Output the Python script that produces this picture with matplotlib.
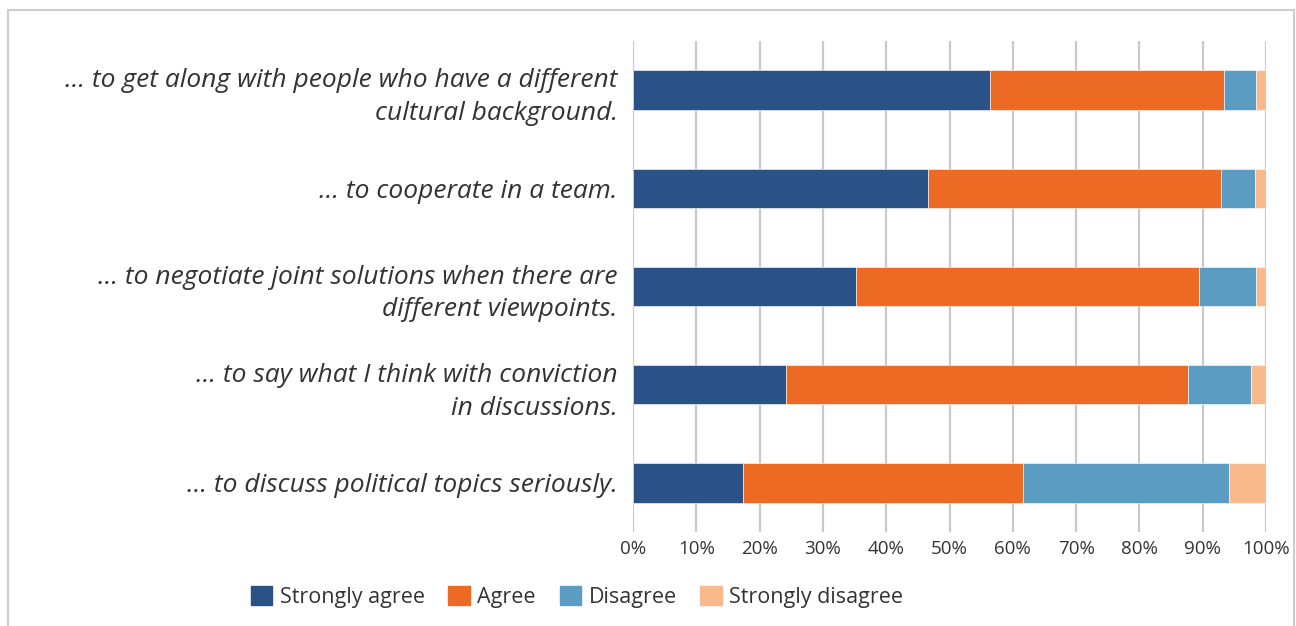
import matplotlib.pyplot as plt
import matplotlib.patches as mpatches
import numpy as np

plt.rcParams["font.family"] = ["Open Sans", "DejaVu Sans"]

# kategorie (od góry do dołu)
categories = [
    "… to get along with people who have a different\ncultural background.",
    "… to cooperate in a team.",
    "… to negotiate joint solutions when there are\ndifferent viewpoints.",
    "… to say what I think with conviction\nin discussions.",
    "… to discuss political topics seriously.",
]

# udziały w procentach
strongly_agree = [56.4, 46.6, 35.2, 24.2, 17.3]
agree = [36.9, 46.3, 54.2, 63.4, 44.3]
disagree = [5.1, 5.3, 9.0, 10.0, 32.6]
strongly_disagree = [1.6, 1.8, 1.6, 2.4, 5.8]

series = [
    ("Strongly agree", strongly_agree, "#2a5286"),
    ("Agree", agree, "#ec6a23"),
    ("Disagree", disagree, "#5b9dc2"),
    ("Strongly disagree", strongly_disagree, "#f8b98c"),
]

text_color = "#333333"
grid_color = "#c9c9c9"

fig = plt.figure(figsize=(12.96, 6.26), dpi=100)
ax = fig.add_axes([633 / 1296, 1 - 532 / 626, 633 / 1296, 491 / 626])

y = np.arange(len(categories))
left = np.zeros(len(categories))
for name, values, color in series:
    ax.barh(y, values, left=left, height=0.4, color=color, label=name,
            edgecolor="white", linewidth=0.4, zorder=3)
    left += np.array(values)

ax.set_xlim(0, 100)
ax.set_ylim(len(categories) - 0.5, -0.5)
ax.set_xticks(np.arange(0, 101, 10))
ax.set_xticklabels([f"{v}%" for v in range(0, 101, 10)])
ax.set_yticks(y)
ax.set_yticklabels(categories, fontsize=19, style="italic", color=text_color,
                   linespacing=1.42)
ax.tick_params(axis="x", length=0, labelsize=13.5, labelcolor=text_color, pad=6)
ax.tick_params(axis="y", length=0, pad=11)
ax.grid(axis="x", color=grid_color, linewidth=1.6, zorder=0)
for s in ax.spines.values():
    s.set_visible(False)

handles = [mpatches.Patch(color=c, label=n) for n, _, c in series]
fig.legend(handles=handles, loc="center", bbox_to_anchor=(577 / 1296, 1 - 597 / 626),
           ncol=4, frameon=False, fontsize=15.5, labelcolor=text_color,
           handlelength=1.0, handleheight=1.0, handletextpad=0.35, columnspacing=1.1)

# ramka wokół wykresu
frame = mpatches.Rectangle((8 / 1296, -0.1), (1294 - 8) / 1296, 1.1 - 10 / 626,
                           transform=fig.transFigure, fill=False,
                           edgecolor="#cccccc", linewidth=1.5)
fig.patches.append(frame)

fig.savefig("out.png", dpi=100, facecolor="white")
